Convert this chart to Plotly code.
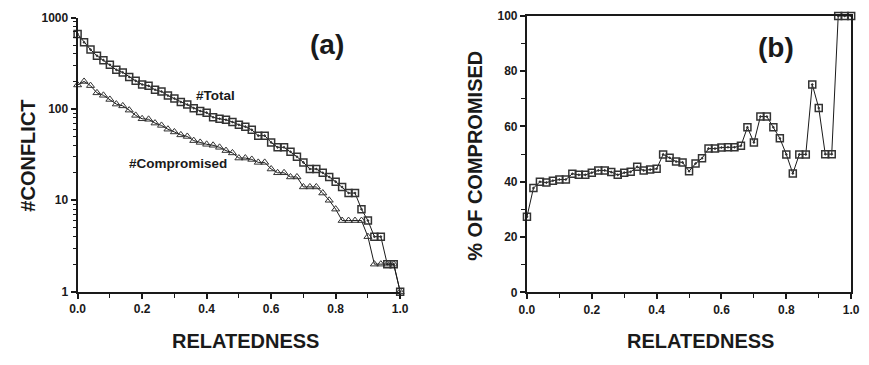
import plotly.graph_objects as go

relatedness = [0.00, 0.02, 0.04, 0.06, 0.08, 0.10, 0.12, 0.14, 0.16, 0.18,
               0.20, 0.22, 0.24, 0.26, 0.28, 0.30, 0.32, 0.34, 0.36, 0.38,
               0.40, 0.42, 0.44, 0.46, 0.48, 0.50, 0.52, 0.54, 0.56, 0.58,
               0.60, 0.62, 0.64, 0.66, 0.68, 0.70, 0.72, 0.74, 0.76, 0.78,
               0.80, 0.82, 0.84, 0.86, 0.88, 0.90, 0.92, 0.94, 0.96, 0.98, 1.00]

total_conflicts = [660, 536, 446, 382, 342, 305, 268, 251, 224, 203,
                   185, 179, 162, 155, 140, 130, 119, 112, 102, 95,
                   91, 81, 78, 76, 72, 67, 64, 59, 51, 51,
                   43, 38, 38, 34, 30, 26, 22, 22, 20, 18,
                   16, 14, 12, 12, 8, 6, 4, 4, 2, 2, 1]

compromised_conflicts = [183, 200, 180, 150, 141, 127, 113, 108, 97, 85,
                         78, 77, 70, 66, 60, 56, 52, 50, 45, 43,
                         41, 40, 38, 35, 33, 29, 29, 28, 26, 26,
                         22, 20, 20, 18, 18, 14, 14, 14, 12, 10,
                         8, 6, 6, 6, 6, 4, 2, 2, 2, 2, 1]

pct_compromised = [27.3, 37.7, 40.0, 39.7, 40.4, 40.8, 40.8, 42.9, 42.5, 42.5,
                   43.3, 44.1, 44.1, 43.5, 42.5, 43.3, 43.6, 45.4, 44.1, 44.4,
                   44.7, 49.9, 48.7, 47.3, 47.0, 43.8, 46.6, 48.5, 52.0, 52.0,
                   52.4, 52.5, 52.5, 53.0, 59.7, 54.2, 63.6, 63.6, 59.7, 55.7,
                   49.9, 43.0, 49.9, 49.9, 75.2, 66.7, 50.0, 50.0, 100, 100, 100]

x_tickvals = [0, 0.2, 0.4, 0.6, 0.8, 1.0]
x_ticktext = ["0.0", "0.2", "0.4", "0.6", "0.8", "1.0"]
y1_tickvals = [1, 10, 100, 1000]
y1_ticktext = ["1", "10", "100", "1000"]
y2_tickvals = [0, 20, 40, 60, 80, 100]
y2_ticktext = ["0", "20", "40", "60", "80", "100"]

FONT = "Liberation Sans"
INK = "#1a1a1a"
MARK = "#333333"

fig = go.Figure()

sq_marker = dict(symbol="square-open-dot", size=7, color=MARK, line=dict(width=1.5, color=MARK))
tri_marker = dict(symbol="triangle-up-open", size=7, color=MARK, line=dict(width=1, color=MARK))

fig.add_trace(go.Scatter(x=relatedness, y=total_conflicts, mode="lines+markers",
                         line=dict(color=INK, width=1), marker=sq_marker,
                         cliponaxis=False, xaxis="x", yaxis="y", name="#Total"))
fig.add_trace(go.Scatter(x=relatedness, y=compromised_conflicts, mode="lines+markers",
                         line=dict(color=INK, width=1), marker=tri_marker,
                         cliponaxis=False, xaxis="x", yaxis="y", name="#Compromised"))
fig.add_trace(go.Scatter(x=relatedness, y=pct_compromised, mode="lines+markers",
                         line=dict(color=INK, width=1), marker=sq_marker,
                         cliponaxis=False, xaxis="x2", yaxis="y2", name="% compromised"))

tickfont = dict(family=FONT, size=12, color=INK, weight="bold")

common_x = dict(range=[0, 1], tickvals=x_tickvals, ticktext=x_ticktext,
                ticks="outside", ticklen=5, tickwidth=1.5, tickcolor=INK,
                showline=True, linecolor=INK, linewidth=2, showgrid=False, zeroline=False,
                tickfont=tickfont, ticklabeloverflow="allow",
                minor=dict(tickvals=[0.1, 0.3, 0.5, 0.7, 0.9], ticks="outside",
                           ticklen=4, tickwidth=1.2, tickcolor=INK, showgrid=False))

fig.update_layout(
    width=869, height=365,
    margin=dict(l=0, r=0, t=0, b=0),
    paper_bgcolor="white", plot_bgcolor="white",
    showlegend=False,
    xaxis=dict(domain=[71 / 869, 400 / 869], anchor="y", **common_x),
    yaxis=dict(domain=[(365 - 296) / 365, (365 - 11) / 365], anchor="x",
               type="log", range=[0, 3], tickvals=y1_tickvals, ticktext=y1_ticktext,
               ticks="outside", ticklen=5, tickwidth=1.5, tickcolor=INK,
               showline=True, linecolor=INK, linewidth=2, showgrid=False, zeroline=False,
               tickfont=tickfont,
               minor=dict(tickvals=[2, 3, 4, 5, 6, 7, 8, 9, 20, 30, 40, 50, 60, 70, 80, 90,
                                    200, 300, 400, 500, 600, 700, 800, 900],
                          ticks="outside", ticklen=3, tickwidth=1.2, tickcolor=INK,
                          showgrid=False)),
    xaxis2=dict(domain=[529.3 / 869, 860 / 869], anchor="y2", mirror=True, **common_x),
    yaxis2=dict(domain=[(365 - 296.7) / 365, (365 - 9.3) / 365], anchor="x2",
                range=[0, 100], tickvals=y2_tickvals, ticktext=y2_ticktext,
                ticks="outside", ticklen=5, tickwidth=1.5, tickcolor=INK,
                showline=True, linecolor=INK, linewidth=2, mirror=True,
                showgrid=False, zeroline=False, tickfont=tickfont,
                minor=dict(tickvals=[10, 30, 50, 70, 90], ticks="outside", ticklen=4,
                           tickwidth=1.2, tickcolor=INK, showgrid=False)),
)

title_font = dict(family=FONT, size=20, color=INK, weight="bold")
label_font = dict(family=FONT, size=13.5, color=INK, weight="bold")

annotations = [
    dict(text="RELATEDNESS", x=242 / 869, y=1 - 347 / 365, font=title_font),
    dict(text="RELATEDNESS", x=706 / 869, y=1 - 347 / 365, font=title_font),
    dict(text="#CONFLICT", x=20 / 869, y=1 - 155 / 365, textangle=-90, font=title_font),
    dict(text="% OF COMPROMISED", x=476 / 869, y=1 - 155 / 365, textangle=-90, font=title_font),
    dict(text="(a)", x=325 / 869, y=1 - 39 / 365, font=dict(family=FONT, size=28, color=INK, weight="bold")),
    dict(text="(b)", x=783 / 869, y=1 - 42 / 365, font=dict(family=FONT, size=28, color=INK, weight="bold")),
    dict(text="#Total", x=212 / 869, y=1 - 92 / 365, font=label_font),
    dict(text="#Compromised", x=173 / 869, y=1 - 163 / 365, font=label_font),
]
for a in annotations:
    a.update(xref="paper", yref="paper", showarrow=False, xanchor="center", yanchor="middle")
fig.update_layout(annotations=annotations)

fig.write_html("out.html",
               config={"displayModeBar": False},
               post_script="document.body.style.margin='0';document.body.style.overflow='hidden';")
